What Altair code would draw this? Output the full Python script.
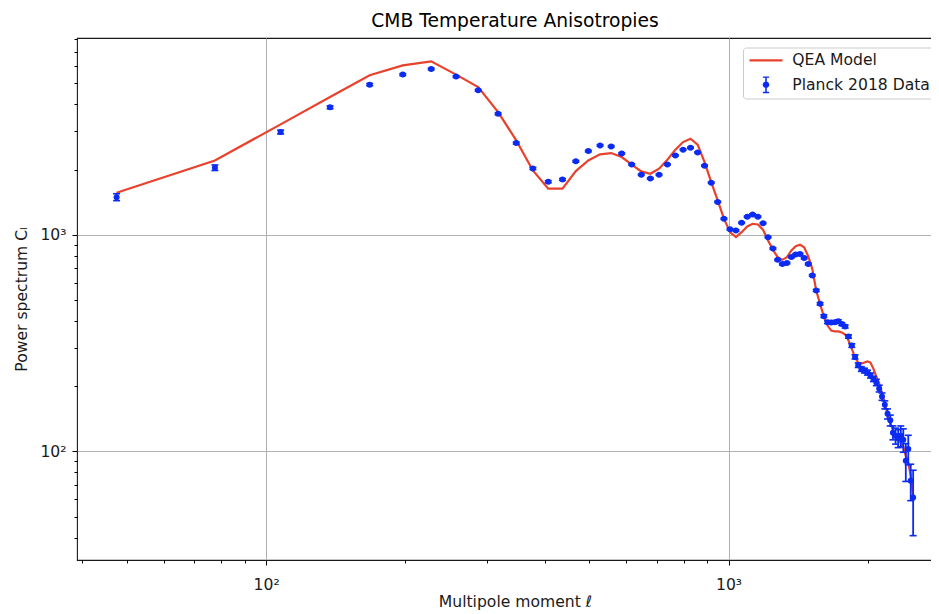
import altair as alt
import pandas as pd

# ---------------- data ----------------
ell = [47.5, 77.5, 107.5, 137.5, 167.5, 197.5, 227.5, 257.5, 287.5, 317.5,
       347.5, 377.5, 407.5, 437.5, 467.5, 497.5, 527.5, 557.5, 587.5, 617.5,
       647.5, 677.5, 707.5, 737.5, 767.5, 797.5, 827.5, 857.5, 887.5, 917.5,
       947.5, 977.5, 1007.5, 1037.5, 1067.5, 1097.5, 1127.5, 1157.5, 1187.5, 1217.5,
       1247.5, 1277.5, 1307.5, 1337.5, 1367.5, 1397.5, 1427.5, 1457.5, 1487.5, 1517.5,
       1547.5, 1577.5, 1607.5, 1637.5, 1667.5, 1697.5, 1727.5, 1757.5, 1787.5, 1817.5,
       1847.5, 1877.5, 1907.5, 1937.5, 1967.5, 1997.5, 2027.5, 2057.5, 2087.5, 2117.5,
       2147.5, 2177.5, 2207.5, 2237.5, 2267.5, 2297.5, 2327.5, 2357.5, 2387.5, 2417.5,
       2447.5, 2477.5, 2507.5]

model_cl = [1563, 2204, 3234, 4324, 5448, 6058, 6322, 5489, 4810, 3686,
            2728, 1982, 1632, 1632, 1967, 2204, 2350, 2383, 2284, 2106,
            1961, 1913, 2018, 2221, 2471, 2679, 2777, 2606, 2165, 1750,
            1440, 1186, 1028, 975, 1028, 1092, 1124, 1116, 1055, 941,
            852, 788, 766, 788, 846, 886, 899, 876, 794, 696,
            553, 480, 419, 381, 361, 358, 358, 354, 346, 325,
            298, 271, 257, 254, 257, 260, 257, 241, 221, 206,
            185, 166, 149, 136, 125, 117, 112, 110, 105, 95.6,
            88.7, 77.2, 62.4]

planck_cl = [1492, 2040, 2980, 3876, 4934, 5489, 5826, 5373, 4643, 3616,
             2650, 2025, 1757, 1800, 2182, 2434, 2586, 2559, 2375, 2113,
             1894, 1820, 1894, 2113, 2325, 2471, 2523, 2401, 2084, 1739,
             1418, 1186, 1060, 1047, 1136, 1211, 1241, 1212, 1131, 975,
             864, 766, 732, 741, 790, 811, 815, 781, 733, 649,
             553, 480, 421, 395, 393, 395, 399, 387, 377, 339,
             308, 273, 250, 240, 236, 231, 224, 216, 208, 195,
             179, 164, 149, 139, 122, 118, 115, 118, 113, 90.6,
             102.6, 73.2, 61.3]

planck_err = [55, 60, 60, 58, 58, 55, 52, 48, 42, 35,
              28, 22, 19, 18, 19, 20, 20, 20, 18, 16,
              14, 14, 14, 15, 16, 17, 17, 16, 14, 12,
              10, 9, 8, 8, 8, 9, 9, 9, 8, 7,
              7, 6, 6, 6, 7, 7, 7, 7, 7, 6,
              6, 6, 6, 6, 6, 6, 6, 6, 6, 6,
              6, 6, 6, 6, 6, 6, 6, 6, 7, 7,
              7, 7, 8, 8, 9, 10, 11, 13, 14, 18,
              16, 14, 20.5]

series_names = ["QEA Model", "Planck 2018 Data"]

x_major = [100, 1000]
x_major_labels = ["10²", "10³"]
x_minor = [40, 50, 60, 70, 80, 90, 200, 300, 400, 500, 600, 700, 800, 900, 2000]
y_major = [100, 1000]
y_major_labels = ["10²", "10³"]
y_minor = [40, 50, 60, 70, 80, 90, 200, 300, 400, 500, 600, 700, 800, 900,
           2000, 3000, 4000, 5000, 6000, 7000, 8000]

x_domain = [39.0, 3058.0]
y_domain = [31.5, 8100.0]

RED = "#e8412c"
BLUE = "#0b2bf2"
FONT = "DejaVu Sans"
FS = 15.6

# ---------------- tables ----------------
model_df = pd.DataFrame({"ell": ell, "cl": model_cl})
data_df = pd.DataFrame({"ell": ell, "cl": planck_cl, "err": planck_err})
data_df["lo"] = data_df["cl"] - data_df["err"]
data_df["hi"] = data_df["cl"] + data_df["err"]


def label_expr(values, labels):
    expr = "''"
    for v, l in reversed(list(zip(values, labels))):
        expr = f"datum.value == {v} ? '{l}' : {expr}"
    return expr


def major_test(values):
    return " || ".join(f"datum.value == {v}" for v in values)


def make_axis(major, labels, minor, title, label_pad, title_pad):
    test = major_test(major)
    return alt.Axis(
        values=major + minor,
        labelExpr=label_expr(major, labels),
        grid=True,
        gridColor="#b0b0b0",
        gridWidth=1,
        gridOpacity={"condition": {"test": test, "value": 1}, "value": 0},
        tickSize={"condition": {"test": test, "value": 5}, "value": 3},
        tickColor="#000000",
        tickWidth=1,
        domain=False,
        labelFont=FONT,
        labelFontSize=FS,
        labelColor="#1a1a1a",
        labelPadding=label_pad,
        labelFlush=False,
        labelOverlap=False,
        title=title,
        titleFont=FONT,
        titleFontSize=FS,
        titleFontWeight="normal",
        titleColor="#1a1a1a",
        titlePadding=title_pad,
    )


x_axis = make_axis(x_major, x_major_labels, x_minor, "Multipole moment ℓ", 12, 2)
y_axis = make_axis(y_major, y_major_labels, y_minor, "Power spectrum Cₗ", 6, 10)

xs = alt.Scale(type="log", domain=x_domain, nice=False)
ys = alt.Scale(type="log", domain=y_domain, nice=False)


def X(field="ell"):
    return alt.X(f"{field}:Q", scale=xs, axis=x_axis)


def Y(field):
    return alt.Y(f"{field}:Q", scale=ys, axis=y_axis)


line_path = "M-2.36,-0.16H2.36V0.16H-2.36Z"
eb_path = ("M-0.11,-1.2H0.11V1.2H-0.11Z"
           "M-0.45,-1.2H0.45V-1.0H-0.45Z"
           "M-0.45,1.0H0.45V1.2H-0.45Z"
           "M-0.47,0A0.47,0.47 0 1,1 0.47,0A0.47,0.47 0 1,1 -0.47,0Z")

legend = alt.Legend(
    title=None,
    orient="none",
    legendX=666,
    legendY=9.5,
    fillColor="white",
    strokeColor="#cccccc",
    cornerRadius=3,
    padding=5,
    symbolSize=196,
    symbolStrokeWidth=0,
    symbolOffset=10.2,
    symbolOpacity=1,
    labelOffset=18.5,
    labelFont=FONT,
    labelFontSize=FS,
    labelColor="#1a1a1a",
    rowPadding=6.5,
)

line = alt.Chart(model_df).mark_line(color=RED, strokeWidth=2.2).encode(x=X(), y=Y("cl"))

bars = alt.Chart(data_df).mark_rule(color=BLUE, strokeWidth=1.8).encode(
    x=X(), y=Y("lo"), y2="hi:Q")
cap_lo = alt.Chart(data_df).mark_tick(
    orient="horizontal", size=7, thickness=1.6, color=BLUE, opacity=1).encode(x=X(), y=Y("lo"))
cap_hi = alt.Chart(data_df).mark_tick(
    orient="horizontal", size=7, thickness=1.6, color=BLUE, opacity=1).encode(x=X(), y=Y("hi"))
points = alt.Chart(data_df).mark_circle(size=36, color=BLUE, opacity=1).encode(x=X(), y=Y("cl"))

legend_layer = alt.Chart(data_df).transform_filter("false").mark_point(
    filled=True, opacity=1).encode(
    x=X(), y=Y("cl"),
    color=alt.Color("series:N", scale=alt.Scale(domain=series_names, range=[RED, BLUE]), legend=legend),
    shape=alt.Shape("series:N", scale=alt.Scale(domain=series_names, range=[line_path, eb_path]), legend=legend),
)

# plot area is wider than the page: the right part is cut off, as in the reference
chart = alt.layer(line, bars, cap_lo, cap_hi, points, legend_layer).properties(
    width=876,
    height=522,
    autosize=alt.AutoSizeParams(type="none"),
    padding={"left": 69, "top": 30, "right": -22, "bottom": 53},
    title=alt.TitleParams("CMB Temperature Anisotropies", font=FONT, fontSize=18.7,
                          fontWeight="normal", color="#000000", offset=1),
).configure_view(stroke="#1a1a1a", strokeWidth=1.1)

chart.save("out.html", embed_options={"renderer": "svg", "actions": False})
